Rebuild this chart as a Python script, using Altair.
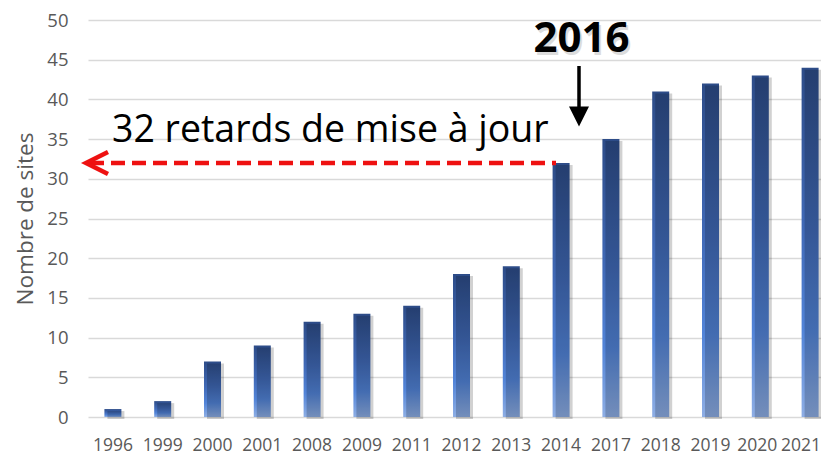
import altair as alt
import pandas as pd

years = ["1996", "1999", "2000", "2001", "2008", "2009", "2011", "2012",
         "2013", "2014", "2017", "2018", "2019", "2020", "2021"]
sites = [1, 2, 7, 9, 12, 13, 14, 18, 19, 32, 35, 41, 42, 43, 44]

df = pd.DataFrame({"year": years, "sites": sites})

FONT = "Open Sans"
W, H = 747, 397

xscale = alt.Scale(domain=years, paddingInner=0, paddingOuter=0)
yscale = alt.Scale(domain=[0, 50])

x_enc = alt.X("year:N", scale=xscale, sort=years,
              axis=alt.Axis(title=None, labelAngle=0, labelFont=FONT, labelFontSize=17.5,
                            labelColor="#595959", ticks=False, domain=False, grid=False,
                            labelPadding=19, labelOverlap=False, labelBound=False,
                            labelOffset={"condition": [
                                {"test": "datum.value == '2021'", "value": -9},
                                {"test": "datum.value == '2020'", "value": -3}],
                                "value": 0}))
y_enc = alt.Y("sites:Q", scale=yscale,
              axis=alt.Axis(title="Nombre de sites", values=list(range(0, 51, 5)),
                            labelFont=FONT, labelFontSize=18.5, labelColor="#595959",
                            titleFont=FONT, titleFontSize=22.5, titleColor="#595959",
                            titleFontWeight="normal", ticks=False, domain=False,
                            labelPadding=20, titlePadding=9,
                            gridColor="#d9d9d9", gridWidth=1.5))

grad = alt.Gradient(
    gradient="linear",
    x1=0, x2=0, y1=0, y2=1,
    stops=[
        alt.GradientStop(offset=0, color="#2d4c88"),
        alt.GradientStop(offset=0.45, color="#4069b6"),
        alt.GradientStop(offset=0.75, color="#5284d8"),
        alt.GradientStop(offset=1, color="#8eaee4"),
    ],
)

base = alt.Chart(df)

shadow = base.mark_bar(size=17, color="#000000", opacity=0.18, xOffset=3, yOffset=2).encode(
    x=x_enc, y=y_enc
)
bars = base.mark_bar(size=17, color=grad).encode(x=x_enc, y=y_enc)

# annotation positions (pixels inside the plot area); value 32 -> y = H - 32*H/50
y32 = H - 32 * H / 50

ann = pd.DataFrame({"t": ["32 retards de mise à jour"]})
red_line = alt.Chart(ann).mark_rule(color="#ee1111", strokeWidth=4.5, strokeDash=[14, 7]).encode(
    x=alt.value(2), x2=alt.value(468), y=alt.value(y32)
)
red_head = alt.Chart(ann).mark_point(
    shape="M1,-1L-1,0L1,1", filled=False, color="#ee1111", strokeWidth=4.5, size=484, opacity=1
).encode(x=alt.value(9), y=alt.value(y32))

text32 = alt.Chart(ann).mark_text(
    font=FONT, fontSize=37.5, color="#000000", align="left", baseline="alphabetic"
).encode(x=alt.value(24), y=alt.value(122), text="t:N")

yr = pd.DataFrame({"t": ["2016"]})
t2016_sh = alt.Chart(yr).mark_text(
    font=FONT, fontSize=42, fontWeight="bold", color="#bbbbbb", opacity=0.5,
    align="center", baseline="alphabetic"
).encode(x=alt.value(495.5), y=alt.value(35), text="t:N")
t2016 = alt.Chart(yr).mark_text(
    font=FONT, fontSize=42, fontWeight="bold", color="#000000",
    align="center", baseline="alphabetic"
).encode(x=alt.value(493.5), y=alt.value(32), text="t:N")

arrow_shaft = alt.Chart(yr).mark_rule(color="#000000", strokeWidth=3.5).encode(
    x=alt.value(491), y=alt.value(46), y2=alt.value(90)
)
arrow_head = alt.Chart(yr).mark_point(
    shape="M-1,-1L1,-1L0,1Z", filled=True, color="#000000", size=400, opacity=1
).encode(x=alt.value(491), y=alt.value(96.5))

chart = alt.layer(
    bars, shadow, red_line, red_head, text32, t2016_sh, t2016, arrow_shaft, arrow_head
).properties(
    width=W, height=H,
    autosize=alt.AutoSizeParams(type="none"),
    padding={"left": 80, "top": 12, "right": -14, "bottom": 38},
).configure(background="white", view=alt.ViewConfig(stroke=None))

chart.save("out.html", embed_options={"renderer": "svg", "actions": False})
